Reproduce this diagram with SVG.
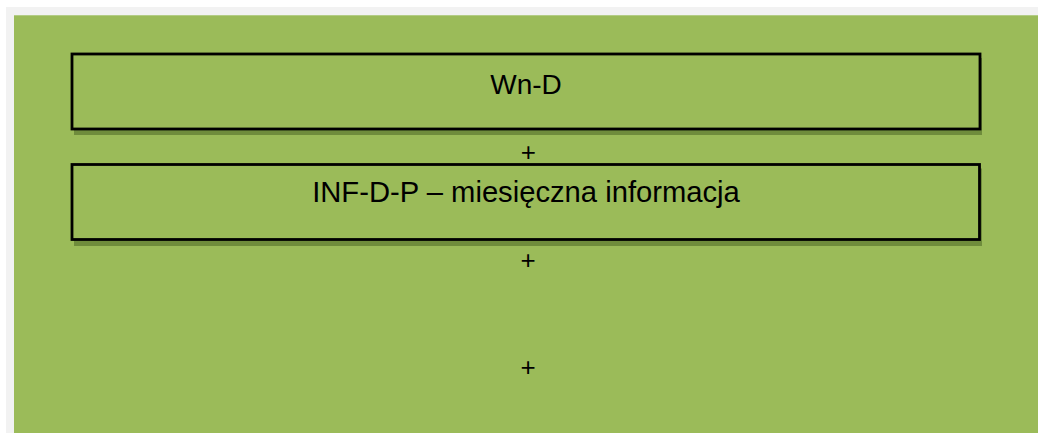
<svg xmlns="http://www.w3.org/2000/svg" width="1038" height="433" viewBox="0 0 1038 433">
  <style>
    .shadow { fill: #6f8c3c; }
    .box { fill: #9bbb59; stroke: #000000; stroke-width: 2.8; }
    .label { font-family: "Liberation Sans", Arial, sans-serif; font-size: 28px; fill: #000000; text-anchor: middle; }
    .label2 { font-family: "Liberation Sans", Arial, sans-serif; font-size: 29.2px; fill: #000000; text-anchor: middle; }
    .plus { font-family: "Liberation Sans", Arial, sans-serif; font-size: 26px; fill: #000000; text-anchor: middle; }
  </style>
  <rect x="0" y="0" width="1038" height="433" fill="#ffffff"/>
  <rect x="6" y="7" width="1032" height="426" fill="#f2f2f2"/>
  <rect x="14" y="15" width="1024" height="418" fill="#9bbb59"/>
  <line x1="14" y1="15.5" x2="1038" y2="15.5" stroke="#b3cc85" stroke-width="1"/>

  <g id="node-wn-d">
    <rect class="shadow" x="74" y="58" width="908" height="77"/>
    <rect class="box" x="72" y="54" width="908" height="75"/>
    <text class="label" x="526" y="94">Wn-D</text>
  </g>

  <g id="node-inf-d-p">
    <rect class="shadow" x="74" y="168.5" width="908" height="77.5"/>
    <rect class="box" x="72" y="164.5" width="907.5" height="75"/>
    <text class="label2" x="526" y="202">INF-D-P – miesięczna informacja</text>
  </g>

  <g id="connectors">
    <text class="plus" x="528.3" y="161">+</text>
    <text class="plus" x="528" y="269">+</text>
    <text class="plus" x="528" y="376">+</text>
  </g>
</svg>
